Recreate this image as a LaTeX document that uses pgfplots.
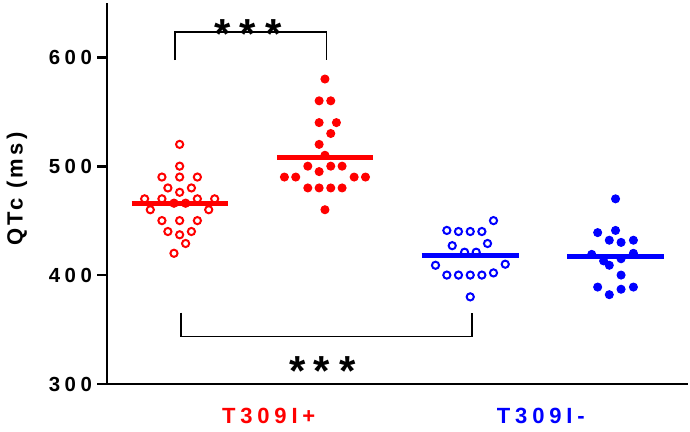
\documentclass[border=0pt]{standalone}
\usepackage{fontspec}
\setmainfont{Liberation Sans}
\newfontfamily\spaced[LetterSpace=22]{Liberation Sans}
\newfontfamily\yspaced[LetterSpace=15]{Liberation Sans}
\usepackage{pgfplots}
\pgfplotsset{compat=1.18}
\definecolor{pred}{RGB}{255,0,0}
\definecolor{pblue}{RGB}{0,0,255}
\tikzset{star/.style={anchor=base, inner sep=0pt, font=\bfseries\fontsize{21}{21}\selectfont}}
\begin{document}
\begin{tikzpicture}
\useasboundingbox (-53.5pt,-24pt) rectangle (291.5pt,192pt);
\begin{axis}[
  scale only axis, width=290.6pt, height=190.6pt,
  xmin=0.5, xmax=4.5, ymin=300, ymax=650,
  axis lines*=left,
  axis line style={line width=1.4pt},
  xtick=\empty,
  ytick={300,400,500,600},
  yticklabels={300,400,500,600},
  yticklabel style={font=\spaced\bfseries\fontsize{10.2}{12}\selectfont, xshift=1pt},
  tick align=outside,
  major tick length=5pt,
  tick style={line width=1.4pt, black},
  clip=false,
]
% group 1: T309I+ open
\addplot[only marks, mark=o, mark size=1.8pt, pred, line width=1pt] coordinates {
(1.000,520)
(1.000,500)
(0.878,490)(1.000,490)(1.122,490)
(0.919,480)(1.081,480)
(1.000,476)
(0.759,470)(0.878,470)(1.122,470)(1.241,470)
(0.961,466)(1.041,466)
(0.798,460)(1.200,460)
(0.878,450)(1.000,450)(1.122,450)
(0.919,440)(1.081,440)
(1.000,437)
(1.041,429)
(0.961,420)
};
% group 2: T309I+ filled
\addplot[only marks, mark=*, mark size=2.0pt, pred, fill=pred, line width=0.5pt] coordinates {
(2.000,580)
(1.960,560)(2.040,560)
(1.960,540)(2.079,540)
(2.040,530)
(1.960,520)
(2.000,510)
(1.882,500)(2.040,500)(2.118,500)
(1.960,495)
(1.721,490)(1.799,490)(2.201,490)(2.279,490)
(1.882,480)(1.960,480)(2.040,480)(2.118,480)
(2.000,460)
};
% group 3: T309I- open
\addplot[only marks, mark=o, mark size=1.8pt, pblue, line width=1pt] coordinates {
(3.160,450)
(2.839,441)(2.919,440)(3.000,440)(3.080,440)
(2.876,427)(3.119,429)
(2.961,421)(3.041,421)
(2.761,409)(3.241,410)
(2.839,400)(2.919,400)(3.000,400)(3.080,400)(3.160,402)
(3.000,380)
};
% group 4: T309I- filled
\addplot[only marks, mark=*, mark size=2.0pt, pblue, fill=pblue, line width=0.5pt] coordinates {
(4.000,470)
(3.877,439)(4.000,441)
(3.957,432)(4.038,430)(4.123,432)
(3.836,419)(4.123,420)
(3.918,413)(4.038,415)(3.957,409)
(4.038,400)
(3.877,389)(4.123,389)(4.038,387)(3.957,382)
};
% means
\addplot[pred, line width=2.6pt] coordinates {(0.670,465.6)(1.330,465.6)};
\addplot[pred, line width=2.6pt] coordinates {(1.670,508.3)(2.330,508.3)};
\addplot[pblue, line width=2.6pt] coordinates {(2.666,418.2)(3.334,418.2)};
\addplot[pblue, line width=2.6pt] coordinates {(3.666,416.7)(4.334,416.7)};
% brackets
\addplot[black, line width=0.85pt] coordinates {(0.966,597.4)(0.966,623.5)(2.01,623.5)(2.01,597.4)};
\addplot[black, line width=0.85pt] coordinates {(1.007,365.6)(1.007,343.5)(3.01,343.5)(3.01,365.6)};
% stars
\node[star] at (axis cs:1.296,608.0) {*};
\node[star] at (axis cs:1.468,608.0) {*};
\node[star] at (axis cs:1.647,608.0) {*};
\node[star] at (axis cs:1.810,298.3) {*};
\node[star] at (axis cs:1.980,298.3) {*};
\node[star] at (axis cs:2.153,298.3) {*};
% category labels
\node[anchor=base west, inner sep=0pt, text=pred, font=\spaced\bfseries\fontsize{11}{13}\selectfont] at (axis cs:1.289,263.3) {T309I+};
\node[anchor=base west, inner sep=0pt, text=pblue, font=\spaced\bfseries\fontsize{11}{13}\selectfont] at (axis cs:3.181,263.3) {T309I-};
% y label
\node[rotate=90, anchor=center, inner sep=0pt, font=\yspaced\bfseries\fontsize{11}{13}\selectfont] at (axis cs:-0.12,479) {QTc (ms)};
\end{axis}
\end{tikzpicture}
\end{document}
